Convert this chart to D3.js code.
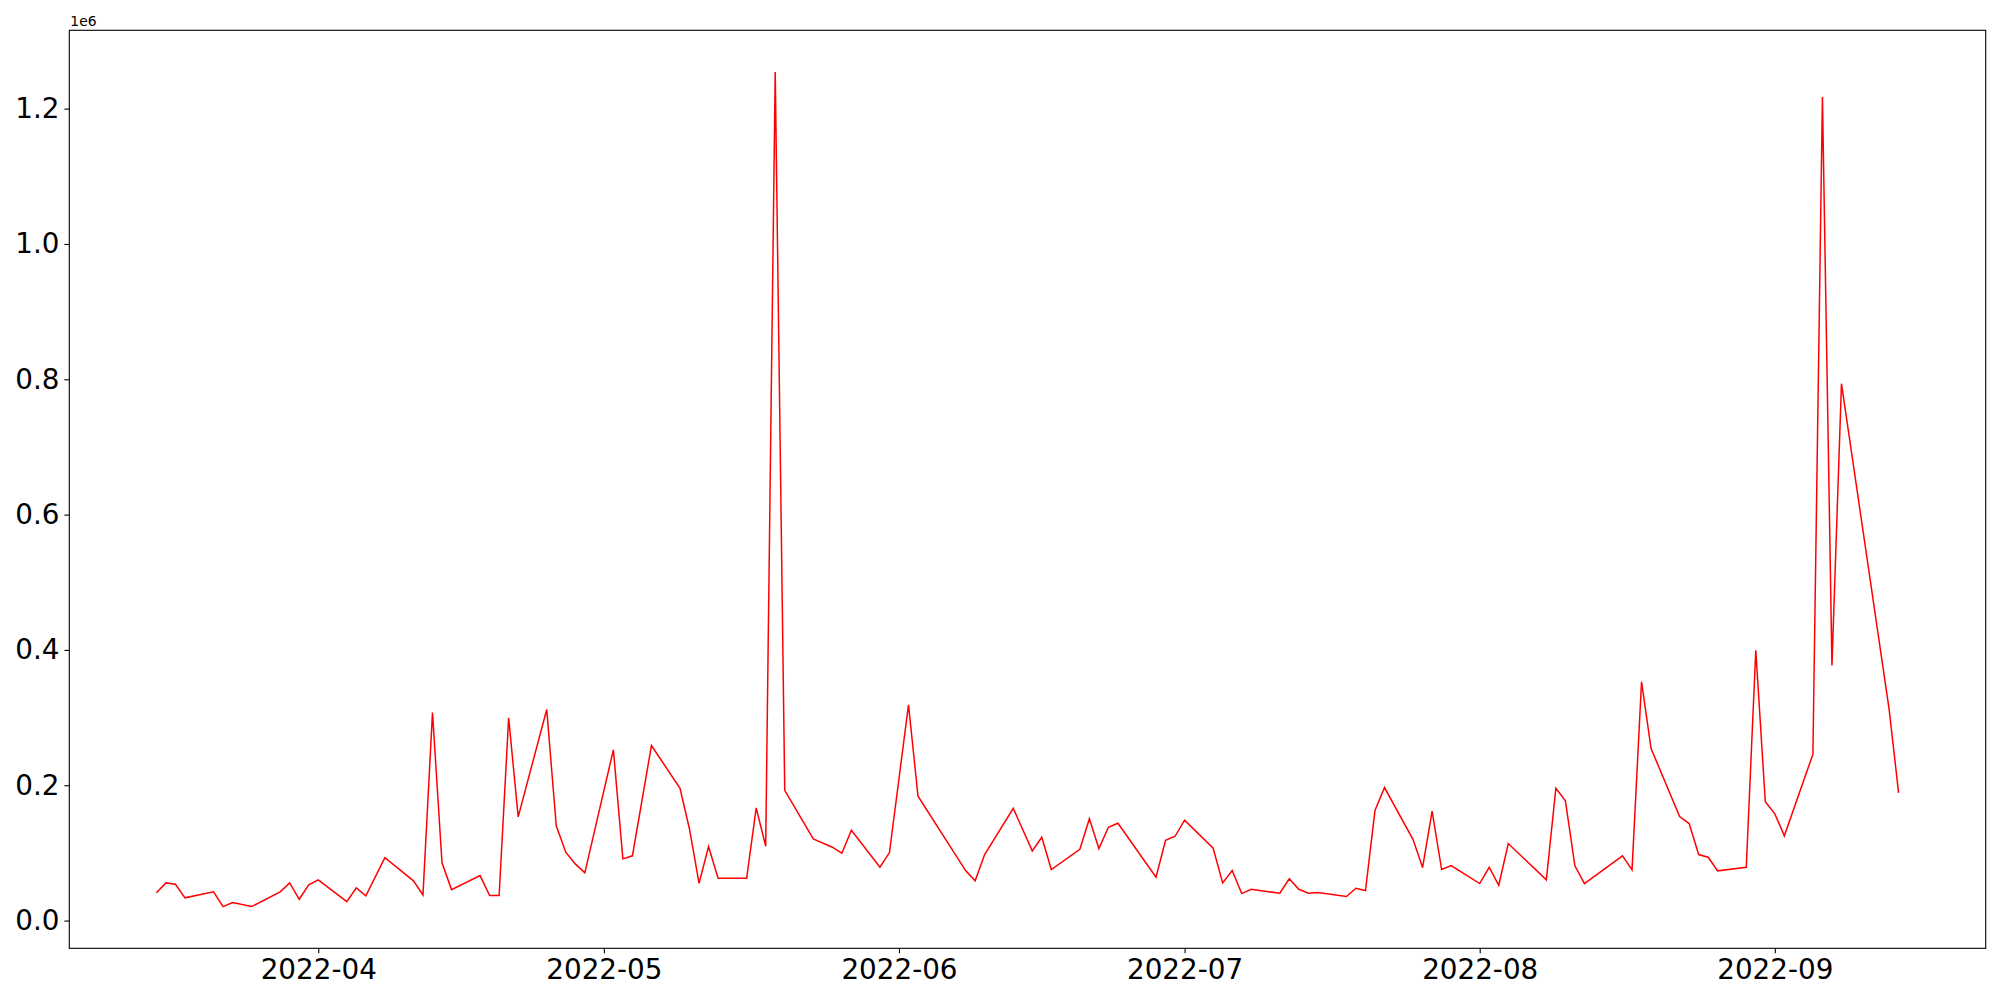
<!DOCTYPE html>
<html>
<head>
<meta charset="utf-8">
<script src="https://cdn.jsdelivr.net/npm/d3@7"></script>
<style>
  body { margin: 0; background: #fff; }
  svg { display: block; font-family: "DejaVu Sans", sans-serif; }
</style>
</head>
<body>
<svg></svg>
<script>
const dates = [
  "2022-03-15","2022-03-16","2022-03-17","2022-03-18","2022-03-21","2022-03-22","2022-03-23","2022-03-25",
  "2022-03-28","2022-03-29","2022-03-30","2022-03-31","2022-04-01","2022-04-04","2022-04-05","2022-04-06",
  "2022-04-08","2022-04-11","2022-04-12","2022-04-13","2022-04-14","2022-04-15","2022-04-18","2022-04-19",
  "2022-04-20","2022-04-21","2022-04-22","2022-04-25","2022-04-26","2022-04-27","2022-04-28","2022-04-29",
  "2022-05-02","2022-05-03","2022-05-04","2022-05-06","2022-05-09","2022-05-10","2022-05-11","2022-05-12",
  "2022-05-13","2022-05-16","2022-05-17","2022-05-18","2022-05-19","2022-05-20","2022-05-23","2022-05-25",
  "2022-05-26","2022-05-27","2022-05-30","2022-05-31","2022-06-02","2022-06-03","2022-06-08","2022-06-09",
  "2022-06-10","2022-06-13","2022-06-15","2022-06-16","2022-06-17","2022-06-20","2022-06-21","2022-06-22",
  "2022-06-23","2022-06-24","2022-06-28","2022-06-29","2022-06-30","2022-07-01","2022-07-04","2022-07-05",
  "2022-07-06","2022-07-07","2022-07-08","2022-07-11","2022-07-12","2022-07-13","2022-07-14","2022-07-15",
  "2022-07-18","2022-07-19","2022-07-20","2022-07-21","2022-07-22","2022-07-25","2022-07-26","2022-07-27",
  "2022-07-28","2022-07-29","2022-08-01","2022-08-02","2022-08-03","2022-08-04","2022-08-08","2022-08-09",
  "2022-08-10","2022-08-11","2022-08-12","2022-08-16","2022-08-17","2022-08-18","2022-08-19","2022-08-22",
  "2022-08-23","2022-08-24","2022-08-25","2022-08-26","2022-08-29","2022-08-30","2022-08-31","2022-09-01",
  "2022-09-02","2022-09-05","2022-09-06","2022-09-07","2022-09-08","2022-09-13","2022-09-14"
];

const values = [
  41000, 55700, 53700, 33600, 42400, 20700, 26600, 20700,
  42400, 55700, 31500, 52800, 60200, 28100, 48300, 36500,
  93100, 58700, 38000, 307500, 85300, 45800, 66500, 37000,
  37000, 299700, 153300, 311900, 140000, 101000, 83800, 70500,
  252400, 91200, 95700, 258700, 195600, 135000, 55100, 109400,
  62500, 62500, 166600, 109800, 1254100, 192600, 120800, 108400,
  99500, 133500, 78800, 100500, 318900, 183800, 73900, 58700,
  97600, 166000, 103000, 123200, 75400, 105400, 150400, 106400,
  137900, 143800, 64000, 118700, 124600, 148300, 106900, 55700,
  73900, 39900, 46300, 40400, 61700, 46300, 40400, 41400,
  35500, 47800, 44400, 162600, 196600, 119800, 78400, 161600,
  75400, 81300, 54700, 78800, 52200, 113800, 60200, 195600,
  177000, 80900, 54700, 95700, 75000, 352900, 254300, 153800,
  143400, 97600, 93600, 73500, 78800, 399600, 175500, 157700,
  125200, 245900, 1217200, 377000, 793500, 313000, 188800
];

const yTicks = [0, 200000, 400000, 600000, 800000, 1000000, 1200000];
const offsetLabel = "1e6";

const width = 2000;
const height = 1000;
const margin = { top: 30.3, right: 14.3, bottom: 51.7, left: 69.3 };

const svg = d3.select("svg").attr("width", width).attr("height", height);

const parse = d3.utcParse("%Y-%m-%d");
const points = dates.map((d, i) => ({ date: parse(d), value: values[i] }));

// matplotlib style 5% margins on both axes
const [x0, x1] = d3.extent(points, d => +d.date);
const xPad = (x1 - x0) * 0.05;
const [y0, y1] = d3.extent(values);
const yPad = (y1 - y0) * 0.05;

const xScale = d3.scaleUtc()
    .domain([new Date(x0 - xPad), new Date(x1 + xPad)])
    .range([margin.left, width - margin.right]);

const yScale = d3.scaleLinear()
    .domain([y0 - yPad, y1 + yPad])
    .range([height - margin.bottom, margin.top]);

// axes
const xAxis = d3.axisBottom(xScale)
    .ticks(d3.utcMonth.every(1))
    .tickFormat(d3.utcFormat("%Y-%m"))
    .tickSize(4.9)
    .tickPadding(6);

const yAxis = d3.axisLeft(yScale)
    .tickValues(yTicks)
    .tickFormat(d => (d / 1e6).toFixed(1))
    .tickSize(4.9)
    .tickPadding(5);

const gx = svg.append("g")
    .attr("transform", "translate(0," + (height - margin.bottom) + ")")
    .call(xAxis);

const gy = svg.append("g")
    .attr("transform", "translate(" + margin.left + ",0)")
    .call(yAxis);

[gx, gy].forEach(g => {
    g.select(".domain").remove();
    g.selectAll(".tick line").attr("stroke", "#000").attr("stroke-width", 1.1);
    g.selectAll(".tick text")
        .attr("fill", "#000")
        .style("font-size", "27.8px")
        .style("font-family", "'DejaVu Sans', sans-serif");
});

// line
const line = d3.line()
    .x(d => xScale(d.date))
    .y(d => yScale(d.value));

svg.append("path")
    .datum(points)
    .attr("fill", "none")
    .attr("stroke", "#ff0000")
    .attr("stroke-width", 1.5)
    .attr("stroke-linejoin", "miter")
    .attr("d", line);

// frame
svg.append("rect")
    .attr("x", margin.left)
    .attr("y", margin.top)
    .attr("width", width - margin.left - margin.right)
    .attr("height", height - margin.top - margin.bottom)
    .attr("fill", "none")
    .attr("stroke", "#000")
    .attr("stroke-width", 1.1);

// offset text
svg.append("text")
    .attr("x", margin.left + 1)
    .attr("y", 26)
    .style("font-size", "13.9px")
    .attr("fill", "#000")
    .text(offsetLabel);
</script>
</body>
</html>
